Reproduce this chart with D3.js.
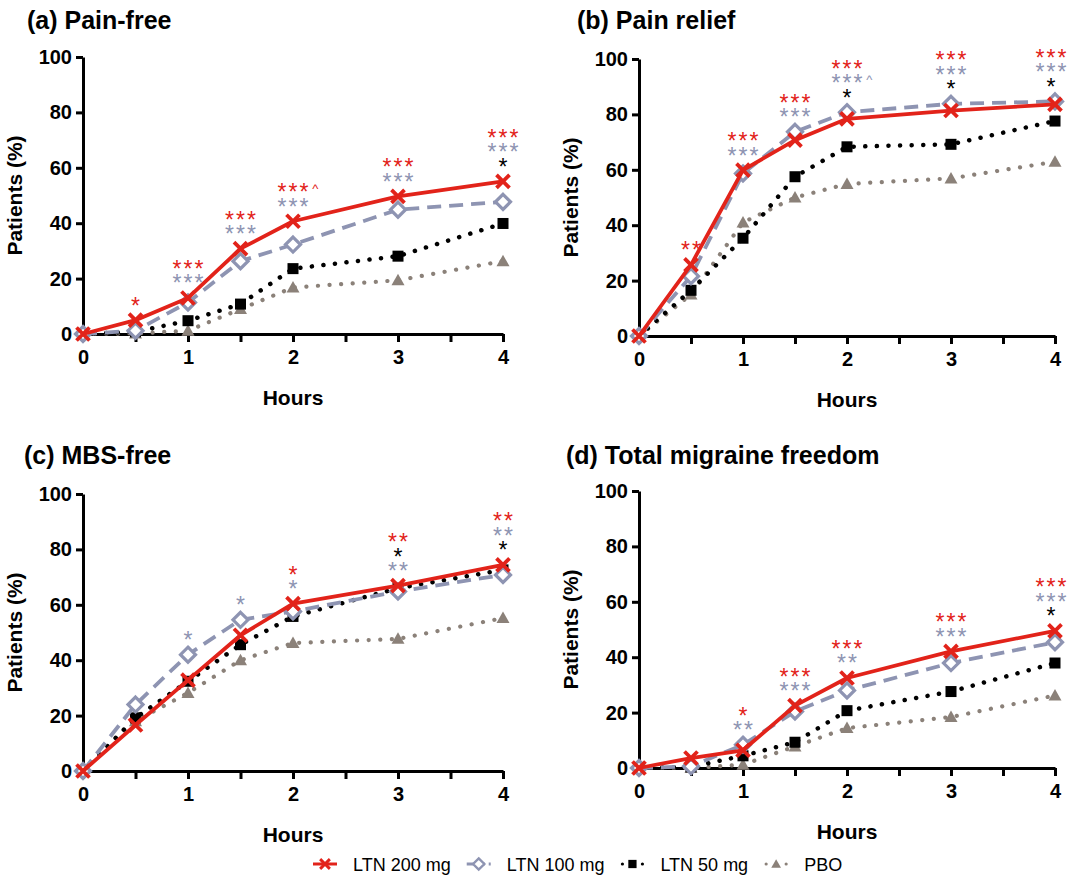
<!DOCTYPE html>
<html>
<head>
<meta charset="utf-8">
<script src="https://cdn.jsdelivr.net/npm/d3@7"></script>
<style>
  body { margin: 0; background: #fff; }
  svg { display: block; font-family: "Liberation Sans", Arial, Helvetica, sans-serif; }
</style>
</head>
<body>
<svg id="chart" width="1070" height="877"></svg>
<script>
// time points (hours)
const hours = [0, 0.5, 1, 1.5, 2, 3, 4];
const seriesNames = ["LTN 200 mg", "LTN 100 mg", "LTN 50 mg", "PBO"];
const panelTitles = ["(a) Pain-free", "(b) Pain relief", "(c) MBS-free", "(d) Total migraine freedom"];
const yTicks = [0, 20, 40, 60, 80, 100];
const xTicks = [0, 0.5, 1, 1.5, 2, 2.5, 3, 3.5, 4];

// (a) pain-free, % patients
const painFree200 = [0, 5, 13, 30.8, 40.7, 49.7, 55.1];
const painFree100 = [0, 1.2, 11.4, 26.3, 32.3, 44.9, 47.7];
const painFree50 = [0, 0.8, 4.8, 10.8, 23.6, 28.1, 39.9];
const painFreePbo = [0, 0.2, 1.2, 9, 16.8, 19.4, 26.3];

// (b) pain relief
const painRelief200 = [0, 25.7, 59.9, 70.7, 78.4, 81.4, 83.6];
const painRelief100 = [0, 21.6, 58.7, 73.7, 80.8, 83.8, 84.7];
const painRelief50 = [0, 16.5, 35.3, 57.5, 68.3, 69.2, 77.6];
const painReliefPbo = [0, 15, 41, 50, 54.9, 56.9, 62.9];

// (c) MBS-free
const mbsFree200 = [0, 16.6, 32.8, 49, 60.4, 66.9, 74.4];
const mbsFree100 = [0, 24, 42, 54.6, 57.6, 64.8, 70.8];
const mbsFree50 = [0, 19.2, 32.4, 45.6, 55.8, 66, 72.6];
const mbsFreePbo = [0, 18, 28.2, 40, 46.2, 47.7, 55.2];

// (d) total migraine freedom
const totalFree200 = [0, 3.6, 6.4, 22.5, 32.5, 42.1, 49.5];
const totalFree100 = [0, 0.6, 8.4, 20.4, 28, 37.9, 45.4];
const totalFree50 = [0, 0.4, 4.4, 9.3, 20.7, 27.6, 37.9];
const totalFreePbo = [0, 0, 1.2, 7.8, 14.4, 18.4, 26.2];

// significance marks, top row first: r = 200 mg, g = 100 mg, k = 50 mg
const painFreeSig = [
  [0.5, [["r", "*"]]],
  [1, [["r", "***"], ["g", "***"]]],
  [1.5, [["r", "***"], ["g", "***"]]],
  [2, [["r", "***^"], ["g", "***"]]],
  [3, [["r", "***"], ["g", "***"]]],
  [4, [["r", "***"], ["g", "***"], ["k", "*"]]]
];
const painReliefSig = [
  [0.5, [["r", "**"]]],
  [1, [["r", "***"], ["g", "***"]]],
  [1.5, [["r", "***"], ["g", "***"]]],
  [2, [["r", "***"], ["g", "***^"], ["k", "*"]]],
  [3, [["r", "***"], ["g", "***"], ["k", "*"]]],
  [4, [["r", "***"], ["g", "***"], ["k", "*"]]]
];
const mbsFreeSig = [
  [1, [["g", "*"]]],
  [1.5, [["g", "*"]]],
  [2, [["r", "*"], ["g", "*"]]],
  [3, [["r", "**"], ["k", "*"], ["g", "**"]]],
  [4, [["r", "**"], ["g", "**"], ["k", "*"]]]
];
const totalFreeSig = [
  [1, [["r", "*"], ["g", "**"]]],
  [1.5, [["r", "***"], ["g", "***"]]],
  [2, [["r", "***"], ["g", "**"]]],
  [3, [["r", "***"], ["g", "***"]]],
  [4, [["r", "***"], ["g", "***"], ["k", "*"]]]
];

const panelData = [
  [painFree200, painFree100, painFree50, painFreePbo],
  [painRelief200, painRelief100, painRelief50, painReliefPbo],
  [mbsFree200, mbsFree100, mbsFree50, mbsFreePbo],
  [totalFree200, totalFree100, totalFree50, totalFreePbo]
];
const panelSig = [painFreeSig, painReliefSig, mbsFreeSig, totalFreeSig];

const RED = "#e2231a", BLUE = "#8e94b2", BLACK = "#000", GREY = "#8b8179";
const sigColor = {r: RED, g: BLUE, k: BLACK};

// style per series (200, 100, 50, PBO)
const styles = [
  {color: RED, width: 3.8, dash: null, cap: "butt", marker: "x"},
  {color: BLUE, width: 3.8, dash: "14 8", cap: "butt", marker: "diamond"},
  {color: BLACK, width: 4.5, dash: "0.1 11.5", cap: "round", marker: "square"},
  {color: GREY, width: 4.2, dash: "0.1 11.5", cap: "round", marker: "triangle"}
];

const layout = [
  {left: 83, right: 503, top: 57, bottom: 334, tx: 27, ty: 29},
  {left: 639, right: 1055, top: 59, bottom: 336, tx: 577, ty: 29},
  {left: 83, right: 503, top: 494, bottom: 771, tx: 24, ty: 464},
  {left: 639, right: 1055, top: 491, bottom: 768, tx: 566, ty: 464}
];

const svg = d3.select("#chart");

function drawMarker(g, type, color) {
  if (type === "x") {
    g.append("path").attr("d", "M-6.5,-6.5L6.5,6.5M-6.5,6.5L6.5,-6.5")
      .attr("stroke", color).attr("stroke-width", 3.8).attr("fill", "none");
  } else if (type === "diamond") {
    g.append("path").attr("d", "M0,-7.5L7.5,0L0,7.5L-7.5,0Z")
      .attr("fill", "#fff").attr("stroke", color).attr("stroke-width", 3.2);
  } else if (type === "square") {
    g.append("rect").attr("x", -5.5).attr("y", -5.5).attr("width", 11).attr("height", 11).attr("fill", color);
  } else {
    g.append("path").attr("d", "M0,-6.5L6.5,5L-6.5,5Z").attr("fill", color);
  }
}

layout.forEach((L, p) => {
  const x = d3.scaleLinear().domain([0, 4]).range([L.left, L.right]);
  const y = d3.scaleLinear().domain([0, 100]).range([L.bottom, L.top]);
  const g = svg.append("g");

  // title
  g.append("text").attr("x", L.tx).attr("y", L.ty)
    .attr("font-size", 25).attr("font-weight", "bold").text(panelTitles[p]);

  // axes
  const yAxis = g.append("g").attr("transform", `translate(${L.left},0)`)
    .call(d3.axisLeft(y).tickValues(yTicks).tickSize(7).tickSizeOuter(0).tickPadding(4));
  const xAxis = g.append("g").attr("transform", `translate(0,${L.bottom})`)
    .call(d3.axisBottom(x).tickValues(xTicks).tickSize(8).tickSizeOuter(0).tickPadding(8)
      .tickFormat(d => Number.isInteger(d) ? d : ""));
  [yAxis, xAxis].forEach(a => {
    a.select(".domain").attr("stroke-width", 3).attr("stroke", "#000");
    a.selectAll(".tick line").attr("stroke-width", 3).attr("stroke", "#000");
    a.selectAll(".tick text").attr("font-size", 20).attr("font-weight", "bold")
      .attr("fill", "#000").attr("font-family", "Liberation Sans, Arial, sans-serif");
  });

  g.append("text").attr("transform", `translate(${L.left - 61},${(L.top + L.bottom) / 2}) rotate(-90)`)
    .attr("text-anchor", "middle").attr("font-size", 21).attr("font-weight", "bold")
    .text("Patients (%)");
  g.append("text").attr("x", x(2)).attr("y", L.bottom + 71)
    .attr("text-anchor", "middle").attr("font-size", 21).attr("font-weight", "bold")
    .text("Hours");

  // series, placebo first so 200 mg is on top
  const line = d3.line().x(d => x(d[0])).y(d => y(d[1]));
  for (let s = 3; s >= 0; s--) {
    const st = styles[s];
    const pts = hours.map((h, i) => [h, panelData[p][s][i]]);
    g.append("path").attr("d", line(pts)).attr("fill", "none")
      .attr("stroke", st.color).attr("stroke-width", st.width)
      .attr("stroke-dasharray", st.dash).attr("stroke-linecap", st.cap)
      .attr("stroke-linejoin", "round");
    pts.forEach(d => {
      const m = g.append("g").attr("transform", `translate(${x(d[0])},${y(d[1])})`);
      drawMarker(m, st.marker, st.color);
    });
  }

  // significance stars, stacked above the highest point at each hour (one text per hour)
  panelSig[p].forEach(([h, rows]) => {
    const i = hours.indexOf(h);
    const top = d3.max(panelData[p], arr => arr[i]);
    const lowest = y(top) - 19.5;
    const firstCy = lowest - (rows.length - 1) * 14.5;
    let cx = x(h) + 1;
    if (cx + 17 > 1069) cx = 1069 - 17;
    const t = g.append("text").attr("font-size", 23).attr("letter-spacing", 2)
      .attr("text-anchor", "middle");
    rows.forEach(([c, txt], k) => {
      t.append("tspan").attr("x", cx).attr("y", firstCy + k * 14.5 + 13)
        .attr("fill", sigColor[c]).text(txt.replace("^", ""));
      if (txt.includes("^")) {
        const n = txt.replace("^", "").length;
        t.append("tspan").attr("x", cx + n * 5.8 + 4).attr("y", firstCy + k * 14.5 + 6)
          .attr("font-size", 13).attr("letter-spacing", 0).attr("fill", sigColor[c]).text("^");
      }
    });
  });
});

// legend
const leg = svg.append("g").attr("transform", "translate(313,864)");
let lx = 0;
seriesNames.forEach((name, s) => {
  const st = styles[s];
  const item = leg.append("g").attr("transform", `translate(${lx},0)`);
  if (s < 2) {
    item.append("line").attr("x1", 0).attr("x2", 24).attr("y1", 0).attr("y2", 0)
      .attr("stroke", st.color).attr("stroke-width", 3).attr("stroke-dasharray", s === 1 ? "7 4" : null);
  } else {
    [2, 22].forEach(cx => item.append("circle").attr("cx", cx).attr("cy", 0).attr("r", 1.6).attr("fill", st.color));
  }
  const m = item.append("g").attr("transform", "translate(12,0) scale(0.75)");
  drawMarker(m, st.marker, st.color);
  const t = item.append("text").attr("x", 40).attr("y", 6.5).attr("font-size", 18).text(name);
  lx += 40 + t.node().getComputedTextLength() + 16;
});
</script>
</body>
</html>
